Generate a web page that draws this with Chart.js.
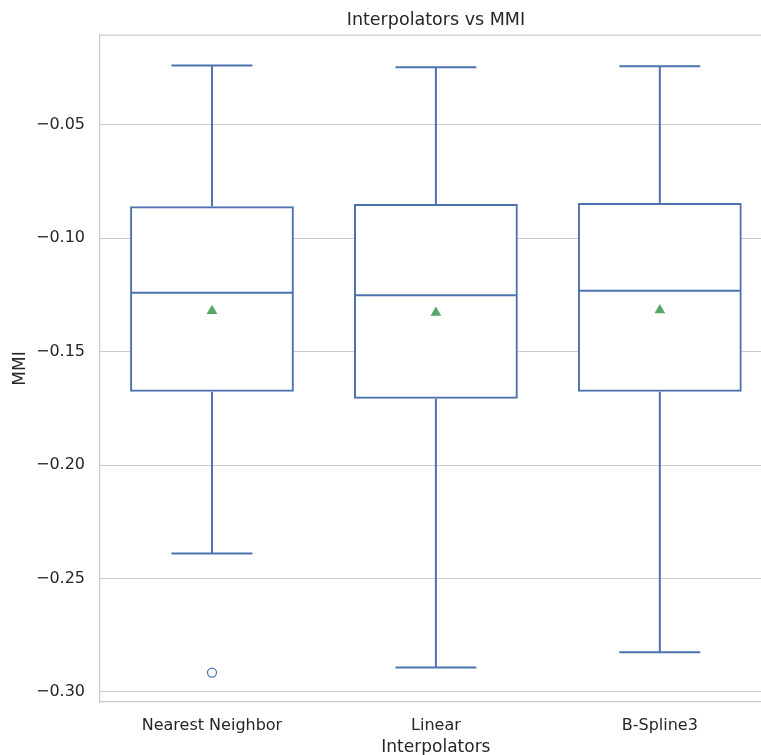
<!DOCTYPE html>
<html><head><meta charset="utf-8">
<script src="https://cdn.jsdelivr.net/npm/chart.js@4.4.0/dist/chart.umd.min.js"></script>
<style>html,body{margin:0;padding:0;overflow:hidden;background:#fff;} canvas{display:block}</style>
</head><body>
<canvas id="c" width="778" height="770"></canvas>
<script>
const categories = ['Nearest Neighbor', 'Linear', 'B-Spline3'];
const whiskerHigh = [-0.0238, -0.0246, -0.0242];
const q3 = [-0.0864, -0.0854, -0.0849];
const medians = [-0.1241, -0.1251, -0.1232];
const q1 = [-0.1673, -0.1703, -0.1673];
const whiskerLow = [-0.2390, -0.2893, -0.2826];
const means = [-0.1321, -0.1328, -0.1317];
const outliers = [-0.2915, null, null];
const yTicks = [-0.30, -0.25, -0.20, -0.15, -0.10, -0.05];
const yMin = -0.3045, yMax = -0.0104;

const BLUE = '#4c72b0', GREEN = '#55a868', GRID = '#cccccc', TEXT = '#262626';
const FONT = "'DejaVu Sans', sans-serif";
const H = 770;

const boxPlugin = {
  id: 'boxWhiskers',
  afterDatasetsDraw(chart) {
    const ctx = chart.ctx, y = chart.scales.y;
    const meta = chart.getDatasetMeta(0);
    const line = (x1, y1, x2, y2) => { ctx.beginPath(); ctx.moveTo(x1, y1); ctx.lineTo(x2, y2); ctx.stroke(); };
    ctx.save();
    ctx.strokeStyle = BLUE; ctx.lineWidth = 2; ctx.lineCap = 'butt';
    meta.data.forEach((bar, i) => {
      const x = bar.x, hw = bar.width / 2, cw = bar.width / 4;
      const pHi = y.getPixelForValue(whiskerHigh[i]);
      const pQ3 = y.getPixelForValue(q3[i]);
      const pMed = y.getPixelForValue(medians[i]);
      const pQ1 = y.getPixelForValue(q1[i]);
      const pLo = y.getPixelForValue(whiskerLow[i]);
      line(x, pQ3 - 1, x, pHi);
      line(x - cw, pHi, x + cw, pHi);
      line(x, pQ1 + 1, x, pLo);
      line(x - cw, pLo, x + cw, pLo);
      line(x - hw, pMed, x + hw, pMed);
    });
    const a = chart.chartArea;
    ctx.strokeStyle = GRID; ctx.lineWidth = 1.25;
    line(a.left - 0.6, a.top, a.right, a.top);
    ctx.restore();
  }
};

new Chart(document.getElementById('c'), {
  type: 'bar',
  data: {
    labels: categories,
    datasets: [
      {
        label: 'box',
        data: categories.map((c, i) => [q1[i], q3[i]]),
        backgroundColor: '#ffffff',
        borderColor: BLUE,
        borderWidth: 2,
        borderSkipped: false,
        inflateAmount: 1,
        barPercentage: 0.7225,
        categoryPercentage: 1,
        order: 10
      },
      {
        type: 'line',
        label: 'mean',
        data: means,
        showLine: false,
        pointStyle: 'triangle',
        pointRadius: 6.2,
        pointBorderWidth: 0,
        pointBackgroundColor: GREEN,
        pointBorderColor: GREEN,
        order: 1
      },
      {
        type: 'line',
        label: 'outliers',
        data: outliers,
        showLine: false,
        pointStyle: 'circle',
        pointRadius: 4.5,
        pointBorderWidth: 1.25,
        pointBackgroundColor: '#ffffff',
        pointBorderColor: BLUE,
        order: 1
      }
    ]
  },
  options: {
    responsive: false,
    animation: false,
    devicePixelRatio: 1,
    layout: { padding: 0 },
    plugins: {
      legend: { display: false },
      tooltip: { enabled: false },
      title: {
        display: true,
        text: 'Interpolators vs MMI',
        color: TEXT,
        fullSize: false,
        font: { family: FONT, size: 17.5, weight: 'normal' },
        padding: { top: 10, bottom: 4 }
      }
    },
    scales: {
      x: {
        type: 'category',
        grid: { display: false },
        border: { display: true, color: GRID, width: 1.25 },
        ticks: { color: TEXT, font: { family: FONT, size: 16 }, padding: 6 },
        title: { display: true, text: 'Interpolators', color: TEXT, font: { family: FONT, size: 17 }, padding: { top: 0, bottom: 12 } },
        afterFit: s => { s.height = H - 702; s.paddingLeft = 0; s.paddingRight = 0; }
      },
      y: {
        type: 'linear',
        min: yMin,
        max: yMax,
        afterBuildTicks: s => { s.ticks = yTicks.map(v => ({ value: v })); },
        grid: { color: GRID, lineWidth: 1, drawTicks: false },
        border: { display: true, color: GRID, width: 1.25 },
        ticks: {
          color: TEXT,
          font: { family: FONT, size: 16 },
          padding: 15,
          callback: v => (v < 0 ? '\u2212' : '') + Math.abs(v).toFixed(2)
        },
        title: { display: true, text: 'MMI', color: TEXT, font: { family: FONT, size: 17 }, padding: { top: 10, bottom: 0 } },
        afterFit: s => { s.width = 100; }
      }
    }
  },
  plugins: [boxPlugin]
});
</script>
</body></html>
